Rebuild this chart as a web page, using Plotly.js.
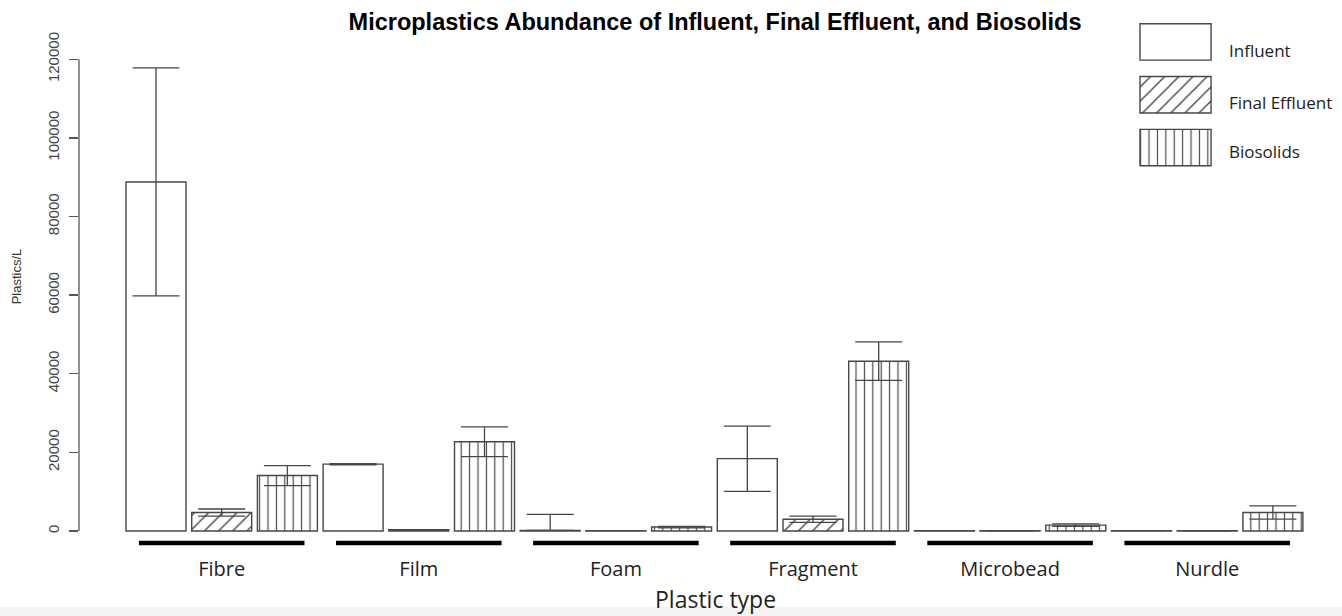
<!DOCTYPE html>
<html>
<head>
<meta charset="utf-8">
<script src="https://cdn.plot.ly/plotly-3.0.1.min.js"></script>
<style>
html,body{margin:0;padding:0;background:#fff;}
#chart{width:1342px;height:616px;}
</style>
</head>
<body>
<div id="chart"></div>
<script>
// ---- data ----
const categories = ['Fibre', 'Film', 'Foam', 'Fragment', 'Microbead', 'Nurdle'];
const seriesNames = ['Influent', 'Final Effluent', 'Biosolids'];

const influent          = [88800, 17000, 150, 18400, 100, 80];
const influentErrPlus   = [29000, 150, 4100, 8300, 0, 0];
const influentErrMinus  = [29000, 150, 0, 8300, 0, 0];

const effluent          = [4700, 300, 80, 3000, 50, 50];
const effluentErrPlus   = [900, 50, 0, 800, 0, 0];
const effluentErrMinus  = [900, 50, 0, 800, 0, 0];

const biosolids         = [14100, 22700, 1000, 43200, 1500, 4700];
const biosolidsErrPlus  = [2550, 3800, 200, 4900, 300, 1700];
const biosolidsErrMinus = [2550, 3800, 200, 4900, 300, 1700];

const yTicks = [0, 20000, 40000, 60000, 80000, 100000, 120000];
const xTitle = 'Plastic type';
const yTitle = 'Plastics/L';
const chartTitle = 'Microplastics Abundance of Influent, Final Effluent, and Biosolids';

// ---- styling ----
const seriesValues = [influent, effluent, biosolids];
const seriesPlus = [influentErrPlus, effluentErrPlus, biosolidsErrPlus];
const seriesMinus = [influentErrMinus, effluentErrMinus, biosolidsErrMinus];
const patternShapes = ['', '/', '|'];
const patternSizes = [8, 10, 8.4];
const lineCol = '#474747';

const traces = seriesNames.map((name, i) => ({
  type: 'bar',
  name: name,
  x: categories,
  y: seriesValues[i],
  xaxis: 'x', yaxis: 'y',
  showlegend: false,
  hoverinfo: 'skip',
  marker: {
    color: 'white',
    line: {color: lineCol, width: 1.4},
    pattern: {shape: patternShapes[i], fgcolor: lineCol, bgcolor: 'white',
              size: patternSizes[i], solidity: 0.14, fillmode: 'replace'}
  },
  error_y: {type: 'data', symmetric: false, array: seriesPlus[i], arrayminus: seriesMinus[i],
            color: lineCol, thickness: 1.3, width: 23.5}
}));

// legend swatches as bars on an overlay axis pair
traces.push({
  type: 'bar',
  orientation: 'h',
  x: seriesNames.map(() => 1),
  y: seriesNames.map((_, i) => i),
  base: 0,
  width: 0.69,
  xaxis: 'x2', yaxis: 'y2',
  showlegend: false,
  hoverinfo: 'skip',
  marker: {
    color: 'white',
    line: {color: lineCol, width: 1.4},
    pattern: {shape: patternShapes, fgcolor: lineCol, bgcolor: 'white',
              size: patternSizes, solidity: 0.14, fillmode: 'replace'}
  }
});

const shapes = [];
// R-style y axis line spanning first to last tick
shapes.push({type: 'line', xref: 'paper', yref: 'y', x0: 0, x1: 0,
             y0: yTicks[0], y1: yTicks[yTicks.length - 1],
             line: {color: '#555', width: 1.3}});
// thick group underlines
categories.forEach((c, i) => {
  shapes.push({type: 'line', xref: 'x', yref: 'paper', x0: i - 0.42, x1: i + 0.42,
               y0: -0.0195, y1: -0.0195, line: {color: '#000', width: 4.5}});
});
// faint grey band at the very bottom of the image
shapes.push({type: 'rect', xref: 'paper', yref: 'paper', x0: -0.07, x1: 1.03,
             y0: -0.17, y1: -0.1442, fillcolor: '#f4f4f4', line: {width: 0}, layer: 'below'});

const legendY = [0.9415, 0.8396, 0.7433];
const annotations = seriesNames.map((name, i) => ({
  xref: 'paper', yref: 'paper', x: 0.9326, y: legendY[i],
  xanchor: 'left', yanchor: 'middle', showarrow: false, text: name,
  font: {family: 'Open Sans', size: 17, color: '#222'}
}));
// x axis title, centred on the bar region as in the reference
annotations.push({
  xref: 'paper', yref: 'paper', x: 0.5167, y: -0.128,
  xanchor: 'center', yanchor: 'middle', showarrow: false, text: xTitle,
  font: {family: 'Open Sans', size: 23, color: '#222'}
});

const layout = {
  width: 1342, height: 616,
  paper_bgcolor: 'white', plot_bgcolor: 'rgba(0,0,0,0)',
  margin: {l: 79, r: 32, t: 20, b: 83},
  barmode: 'group', bargap: 0, bargroupgap: 0.087,
  showlegend: false,
  title: {
    text: chartTitle,
    font: {family: 'Liberation Sans, Arial, sans-serif', size: 23.5, color: '#000', weight: 700},
    xref: 'paper', x: 0.5167, xanchor: 'center',
    yref: 'container', y: 0.964, yanchor: 'middle'
  },
  xaxis: {
    type: 'category', range: [-0.724, 5.5216],
    showline: false, showgrid: false, zeroline: false, ticks: '',
    tickfont: {family: 'Open Sans', size: 20, color: '#222'},
    ticklabelstandoff: 22,
    fixedrange: true
  },
  yaxis: {
    range: [-509, 129992],
    tickvals: yTicks, ticktext: yTicks.map(String), tickangle: -90,
    ticks: 'outside', ticklen: 9, tickwidth: 1.3, tickcolor: '#555',
    showline: false, showgrid: false, zeroline: false,
    tickfont: {family: 'Liberation Sans, Arial, sans-serif', size: 15, color: '#444'},
    ticklabelstandoff: 4,
    title: {text: yTitle, font: {family: 'Liberation Sans, Arial, sans-serif', size: 13, color: '#333'}, standoff: 20},
    fixedrange: true
  },
  xaxis2: {domain: [0.859, 0.9225], range: [-0.05, 1.05], visible: false, anchor: 'y2', fixedrange: true},
  yaxis2: {domain: [0.6998, 1], range: [2.5, -0.415], visible: false, anchor: 'x2', fixedrange: true},
  shapes: shapes,
  annotations: annotations
};

Plotly.newPlot('chart', traces, layout, {displayModeBar: false, staticPlot: true});
</script>
</body>
</html>
